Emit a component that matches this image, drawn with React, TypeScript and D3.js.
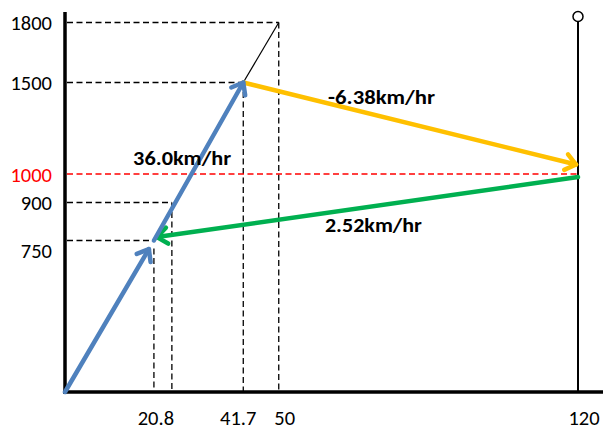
import React from 'react';
import * as d3 from 'd3';

// ---- data ----
const xTickValues = [20.8, 41.7, 50, 120];
const xTickLabels = ['20.8', '41.7', '50', '120'];
const yTickValues = [750, 900, 1000, 1500, 1800];
const yTickLabels = ['750', '900', '1000', '1500', '1800'];
const blueSeg1: [number, number][] = [[0, 0], [20.8, 750]];
const blueSeg2: [number, number][] = [[20.8, 750], [41.7, 1500]];
const yellowSeg: [number, number][] = [[41.7, 1500], [120, 1000]];
const greenSeg: [number, number][] = [[120, 1000], [20.8, 750]];
const thinSeg: [number, number][] = [[41.7, 1500], [50, 1800]];
const guidePoints: [number, number][] = [[50, 1800], [41.7, 1500], [25, 900], [20.8, 750]];
const speedLabels = ['36.0km/hr', '-6.38km/hr', '2.52km/hr'];
const targetLevel = 1000;
const endTime = 120;

const W = 603;
const H = 430;
const x = d3.scaleLinear().domain([0, 120]).range([65, 578]);
const y = d3.scaleLinear().domain([0, 750, 900, 1000, 1500, 1800]).range([392, 240.5, 202.5, 174, 82.5, 22.5]);

const BLUE = '#4F81BD';
const YELLOW = '#FFC000';
const GREEN = '#00B050';
const FONT = 'Carlito, Lato, "Liberation Sans", sans-serif';

function Arrow({ seg, color, width, trimEnd = 0, dyStart = 0, dyEnd = 0 }: any) {
  let x1 = x(seg[0][0]), y1 = y(seg[0][1]) + dyStart;
  let x2 = x(seg[1][0]), y2 = y(seg[1][1]) + dyEnd;
  const len = Math.hypot(x2 - x1, y2 - y1);
  const ux = (x2 - x1) / len, uy = (y2 - y1) / len;
  x2 -= ux * trimEnd;
  y2 -= uy * trimEnd;
  const L = 13, th = (38 * Math.PI) / 180;
  const arm = (s: number) => {
    const c = Math.cos(s * th), sn = Math.sin(s * th);
    const rx = ux * c - uy * sn, ry = ux * sn + uy * c;
    return [x2 - rx * L, y2 - ry * L];
  };
  const a = arm(1), b = arm(-1);
  const line = d3.line();
  return (
    <g fill="none" stroke={color} strokeWidth={width} strokeLinecap="round" strokeLinejoin="round">
      <path d={line([[x1, y1], [x2, y2]]) || ''} />
      <path d={line([a as any, [x2, y2], b as any]) || ''} />
    </g>
  );
}

export default function App() {
  const dash = '6 3.5';
  const line = d3.line();
  return (
    <svg width={W} height={H} style={{ position: 'absolute', left: 0, top: 0, background: '#fff' }}>
      {/* dashed guides */}
      <g stroke="#000" strokeWidth={1.3} strokeDasharray={dash} fill="none">
        {guidePoints.map(([gx, gy], i) => (
          <g key={i}>
            <line x1={x(0) + 2} x2={x(gx)} y1={y(gy)} y2={y(gy)} />
            <line x1={x(gx)} x2={x(gx)} y1={y(gy) + (gy === 750 ? 8 : 0)} y2={y(0)} />
          </g>
        ))}
      </g>
      <line x1={x(0) + 2} x2={x(endTime)} y1={y(targetLevel)} y2={y(targetLevel)} stroke="#FF0000" strokeWidth={1.5} strokeDasharray={dash} />
      {/* thin line to 1800 */}
      <path d={line(thinSeg.map(([a, b]) => [x(a), y(b)]) as any) || ''} stroke="#000" strokeWidth={1.2} fill="none" />
      {/* vertical end line with circle */}
      <line x1={x(endTime)} x2={x(endTime)} y1={y(1800) - 1} y2={y(0)} stroke="#000" strokeWidth={2} />
      <circle cx={x(endTime)} cy={y(1800) - 6} r={5} fill="#fff" stroke="#000" strokeWidth={1.5} />
      {/* axes */}
      <line x1={x(0)} x2={x(0)} y1={12} y2={y(0) + 2} stroke="#000" strokeWidth={3.5} />
      <line x1={x(0) - 2} x2={W} y1={y(0)} y2={y(0)} stroke="#000" strokeWidth={3.5} />
      {/* arrows */}
      <Arrow seg={yellowSeg} color={YELLOW} width={4.5} trimEnd={2} dyEnd={-9} />
      <Arrow seg={greenSeg} color={GREEN} width={4.5} dyStart={3} trimEnd={3} dyEnd={-3} />
      <Arrow seg={blueSeg1} color={BLUE} width={4.5} trimEnd={10} />
      <Arrow seg={blueSeg2} color={BLUE} width={4.5} />
      {/* y tick labels */}
      <g fontFamily={FONT} fontSize={20.5} textAnchor="end">
        {yTickValues.map((v, i) => (
          <text key={v} x={52} y={y(v) + 7.5 + (v === 750 ? 10 : 0)} fill={v === targetLevel ? '#FF0000' : '#000'}>
            {yTickLabels[i]}
          </text>
        ))}
      </g>
      {/* x tick labels */}
      <g fontFamily={FONT} fontSize={20.5} textAnchor="middle">
        {xTickValues.map((v, i) => (
          <text key={v} x={x(v) + (v === 120 ? 6 : v === 50 ? 6 : v === 41.7 ? -5 : 2)} y={425}>
            {xTickLabels[i]}
          </text>
        ))}
      </g>
      {/* speed labels */}
      <g fontFamily={FONT} fontSize={20} fontWeight="bold" textAnchor="middle" fill="#000">
        <text x={(x(0) + x(41.7)) / 2 + 28} y={(y(0) + y(1500)) / 2 - 72} textLength={98} lengthAdjust="spacingAndGlyphs">{speedLabels[0]}</text>
        <text x={(x(41.7) + x(120)) / 2 - 29} y={(y(1500) + y(1000)) / 2 - 24} textLength={107} lengthAdjust="spacingAndGlyphs">{speedLabels[1]}</text>
        <text x={(x(120) + x(20.8)) / 2 + 7.5} y={(y(1000) + y(750)) / 2 + 25} textLength={97} lengthAdjust="spacingAndGlyphs">{speedLabels[2]}</text>
      </g>
    </svg>
  );
}
